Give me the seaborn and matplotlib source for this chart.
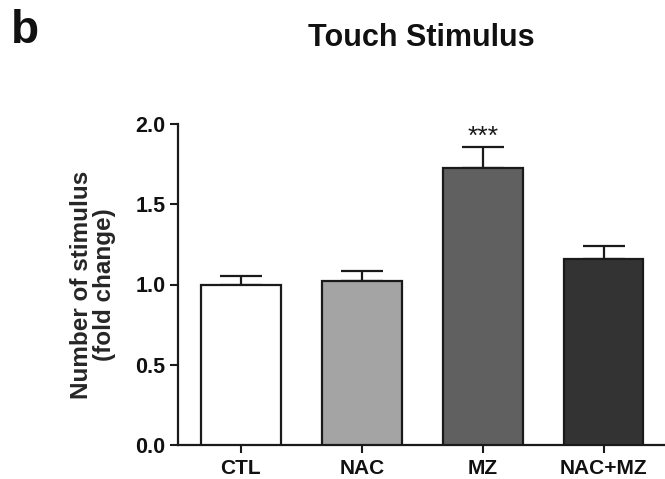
import matplotlib
matplotlib.use("Agg")
import matplotlib.pyplot as plt
import seaborn as sns
import pandas as pd
import numpy as np

categories = ["CTL", "NAC", "MZ", "NAC+MZ"]
means = [1.00, 1.02, 1.725, 1.157]
sems = [0.053, 0.067, 0.130, 0.081]
bar_colors = ["#ffffff", "#a4a4a4", "#606060", "#333333"]
yticks = [0.0, 0.5, 1.0, 1.5, 2.0]

sns.set_style("ticks")
plt.rcParams["font.family"] = ["Liberation Sans", "DejaVu Sans"]

df = pd.DataFrame({"group": categories, "value": means})

fig = plt.figure(figsize=(6.65, 4.79), dpi=100)
ax = fig.add_axes([178 / 665, 34 / 479, 486 / 665, 321 / 479])

sns.barplot(data=df, x="group", y="value", hue="group", palette=bar_colors,
            order=categories, hue_order=categories, errorbar=None, legend=False,
            width=0.66, edgecolor="#1a1a1a", linewidth=1.6, ax=ax, zorder=3)

x = np.arange(len(categories))
ax.errorbar(x, means, yerr=[np.zeros(len(means)), sems], fmt="none",
            ecolor="#1a1a1a", elinewidth=1.6, capsize=15, capthick=1.6, zorder=2)

ax.annotate("***", xy=(2, means[2] + sems[2]), xytext=(0, -1), textcoords="offset points",
            ha="center", va="bottom", fontsize=19, color="#1a1a1a")

ax.set_ylim(0, 2.0)
ax.set_xlim(-0.52, 3.5)
ax.set_yticks(yticks)
ax.set_yticklabels([f"{t:.1f}" for t in yticks], fontsize=15.5, fontweight="bold")
ax.set_xticks(x)
ax.set_xticklabels(categories, fontsize=15, fontweight="bold")
ax.set_xlabel("")
ax.set_ylabel("Number of stimulus\n(fold change)", fontsize=17.5, fontweight="bold",
              labelpad=14, linespacing=1.0)
ax.tick_params(axis="both", length=6, width=1.5, color="#1a1a1a", labelcolor="#111111")
ax.tick_params(axis="y", pad=3)
ax.tick_params(axis="x", pad=4)
for s in ["left", "bottom"]:
    ax.spines[s].set_linewidth(1.6)
    ax.spines[s].set_color("#1a1a1a")
sns.despine(ax=ax)

fig.text((178 + 664) / 2 / 665, 1 - 38 / 479, "Touch Stimulus", ha="center", va="center",
         fontsize=22, fontweight="bold", color="#111111")
fig.text(11 / 665, 1 - 31 / 479, "b", ha="left", va="center",
         fontsize=33, fontweight="bold", color="#111111")

fig.savefig("out.png", dpi=100, facecolor="white")
